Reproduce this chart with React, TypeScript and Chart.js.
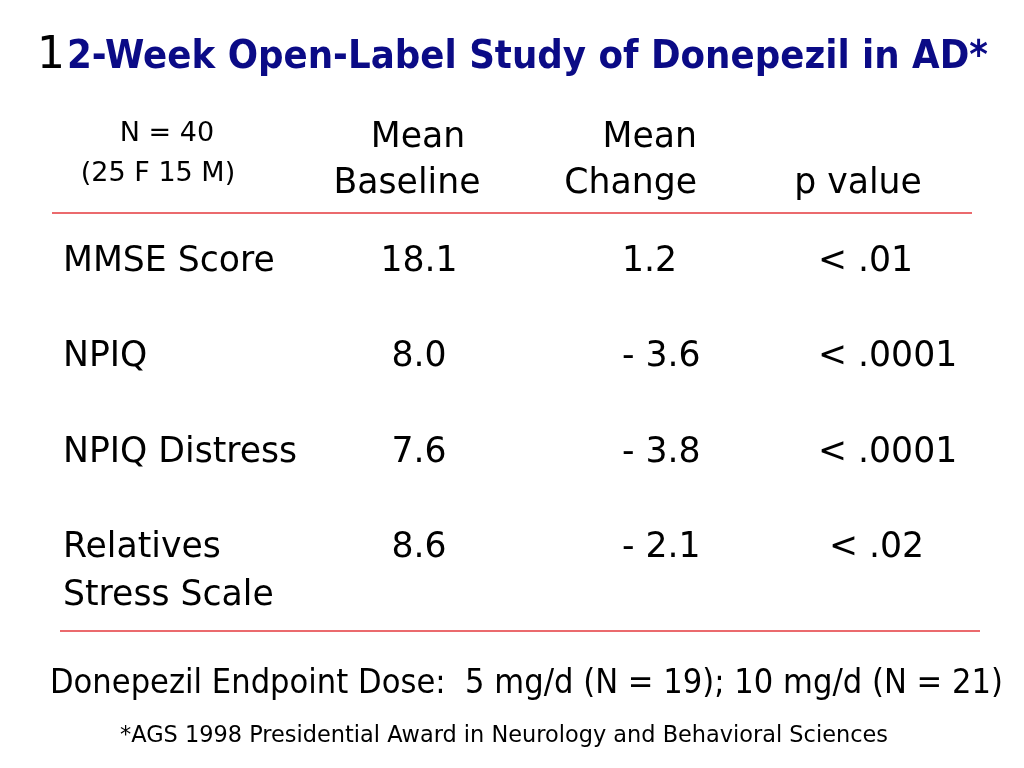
import React, { useEffect, useRef } from "react";
import { Chart, registerables } from "chart.js";

Chart.register(...registerables);

// ---------- data ----------
const title = "12-Week Open-Label Study of Donepezil in AD*";
const sampleHeader = ["N = 40", "(25 F 15 M)"];
const baselineHeader = ["Mean", "Baseline"];
const changeHeader = ["Mean", "Change"];
const pHeader = ["p value"];
const measures = ["MMSE Score", "NPIQ", "NPIQ Distress", "Relatives\nStress Scale"];
const meanBaseline = [18.1, 8.0, 7.6, 8.6];
const meanChange = [1.2, -3.6, -3.8, -2.1];
const pValues = ["< .01", "< .0001", "< .0001", " < .02"];
const doseNote = "Donepezil Endpoint Dose:  5 mg/d (N = 19); 10 mg/d (N = 21)";
const footnote = "*AGS 1998 Presidential Award in Neurology and Behavioral Sciences";

// ---------- layout (styles only) ----------
const W = 1024;
const H = 768;
const FIRST_ROW_PX = 271;
const ROW_GAP_PX = 95.3;
const rowAt = (px: number) => (px - FIRST_ROW_PX) / ROW_GAP_PX;
const Y_MIN = rowAt(0);
const Y_MAX = rowAt(H);

const FONT = "'DejaVu Sans', Verdana, sans-serif";
const BODY = { size: 35, sx: 0.99, lineGap: 48 };
const COL_X = { label: 63, baseline: 419, change: 622, p: 818 };
const RED = "#E4383C";
const NAVY = "#0B0B86";

const fmtChange = (v: number) => (v < 0 ? "- " + Math.abs(v).toFixed(1) : v.toFixed(1));

type TextSpec = {
  texts: string[];
  align: CanvasTextAlign;
  size: number;
  weight?: string;
  color?: string;
  sx?: number;
  fitWidth?: number;
  lineGap?: number;
};

function textDataset(xs: number[], ys: number[], spec: TextSpec) {
  return {
    type: "scatter" as const,
    data: xs.map((x, i) => ({ x, y: ys[i] })),
    pointRadius: 0,
    pointHoverRadius: 0,
    showLine: false,
    textSpec: spec,
  };
}

function ruleDataset(x0: number, x1: number, yPx: number) {
  return {
    type: "line" as const,
    data: [
      { x: x0, y: rowAt(yPx) },
      { x: x1, y: rowAt(yPx) },
    ],
    borderColor: RED,
    borderWidth: 1.4,
    pointRadius: 0,
    fill: false,
  };
}

const textPlugin = {
  id: "tableText",
  afterDatasetsDraw(chart: any) {
    const ctx: CanvasRenderingContext2D = chart.ctx;
    chart.data.datasets.forEach((ds: any, di: number) => {
      const spec: TextSpec | undefined = ds.textSpec;
      if (!spec) return;
      const meta = chart.getDatasetMeta(di);
      meta.data.forEach((pt: any, i: number) => {
        const raw = spec.texts[i];
        if (raw === undefined || raw === "") return;
        const lines = raw.split("\n");
        ctx.save();
        ctx.font = `${spec.weight || "normal"} ${spec.size}px ${FONT}`;
        ctx.fillStyle = spec.color || "#000";
        ctx.textAlign = spec.align;
        ctx.textBaseline = "alphabetic";
        lines.forEach((line, li) => {
          let sx = spec.sx ?? 1;
          if (spec.fitWidth) sx = spec.fitWidth / ctx.measureText(line).width;
          ctx.save();
          ctx.translate(pt.x, pt.y + li * (spec.lineGap || 0));
          ctx.scale(sx, 1);
          ctx.fillText(line, 0, 0);
          ctx.restore();
        });
        ctx.restore();
      });
    });
  },
};

export default function App() {
  const ref = useRef<HTMLCanvasElement | null>(null);

  useEffect(() => {
    document.body.style.margin = "0";
    document.body.style.background = "#fff";
    const canvas = ref.current;
    if (!canvas) return;
    const rows = measures.map((_, i) => i);

    const datasets: any[] = [
      // title
      textDataset([37], [rowAt(68)], {
        texts: [title.slice(0, 1)],
        align: "left",
        size: 44,
        color: "#000",
        sx: 1,
      }),
      textDataset([67], [rowAt(68)], {
        texts: [title.slice(1)],
        align: "left",
        size: 39,
        weight: "bold",
        color: NAVY,
        fitWidth: 921,
      }),
      // headers
      textDataset([167, 158], [rowAt(141), rowAt(181)], {
        texts: sampleHeader,
        align: "center",
        size: 27,
        sx: 1.0,
      }),
      textDataset([418, 407], [rowAt(147), rowAt(193)], {
        texts: baselineHeader,
        align: "center",
        size: BODY.size,
        sx: BODY.sx,
      }),
      textDataset([697, 697], [rowAt(147), rowAt(193)], {
        texts: changeHeader,
        align: "right",
        size: BODY.size,
        sx: BODY.sx,
      }),
      textDataset([858], [rowAt(193)], {
        texts: pHeader,
        align: "center",
        size: BODY.size,
        sx: BODY.sx,
      }),
      // table body
      textDataset(rows.map(() => COL_X.label), rows, {
        texts: measures,
        align: "left",
        size: BODY.size,
        sx: BODY.sx,
        lineGap: BODY.lineGap,
      }),
      textDataset(rows.map(() => COL_X.baseline), rows, {
        texts: meanBaseline.map((v) => v.toFixed(1)),
        align: "center",
        size: BODY.size,
        sx: BODY.sx,
      }),
      textDataset(rows.map(() => COL_X.change), rows, {
        texts: meanChange.map(fmtChange),
        align: "left",
        size: BODY.size,
        sx: BODY.sx,
      }),
      textDataset(rows.map(() => COL_X.p), rows, {
        texts: pValues,
        align: "left",
        size: BODY.size,
        sx: BODY.sx,
      }),
      // footer
      textDataset([50], [rowAt(693)], {
        texts: [doseNote],
        align: "left",
        size: 33,
        fitWidth: 953,
      }),
      textDataset([120], [rowAt(742)], {
        texts: [footnote],
        align: "left",
        size: 23,
        fitWidth: 768,
      }),
      // rules
      ruleDataset(52, 972, 213),
      ruleDataset(60, 980, 631),
    ];

    const chart = new Chart(canvas, {
      type: "scatter",
      data: { datasets },
      options: {
        animation: false,
        responsive: false,
        devicePixelRatio: 1,
        events: [],
        layout: { padding: 0 },
        scales: {
          x: { type: "linear", min: 0, max: W, display: false },
          y: { type: "linear", min: Y_MIN, max: Y_MAX, reverse: true, display: false },
        },
        plugins: {
          legend: { display: false },
          tooltip: { enabled: false },
          title: { display: false },
        },
      },
      plugins: [textPlugin],
    } as any);

    return () => chart.destroy();
  }, []);

  return (
    <div style={{ width: W, height: H, background: "#fff" }}>
      <canvas ref={ref} width={W} height={H} style={{ display: "block" }} />
    </div>
  );
}
